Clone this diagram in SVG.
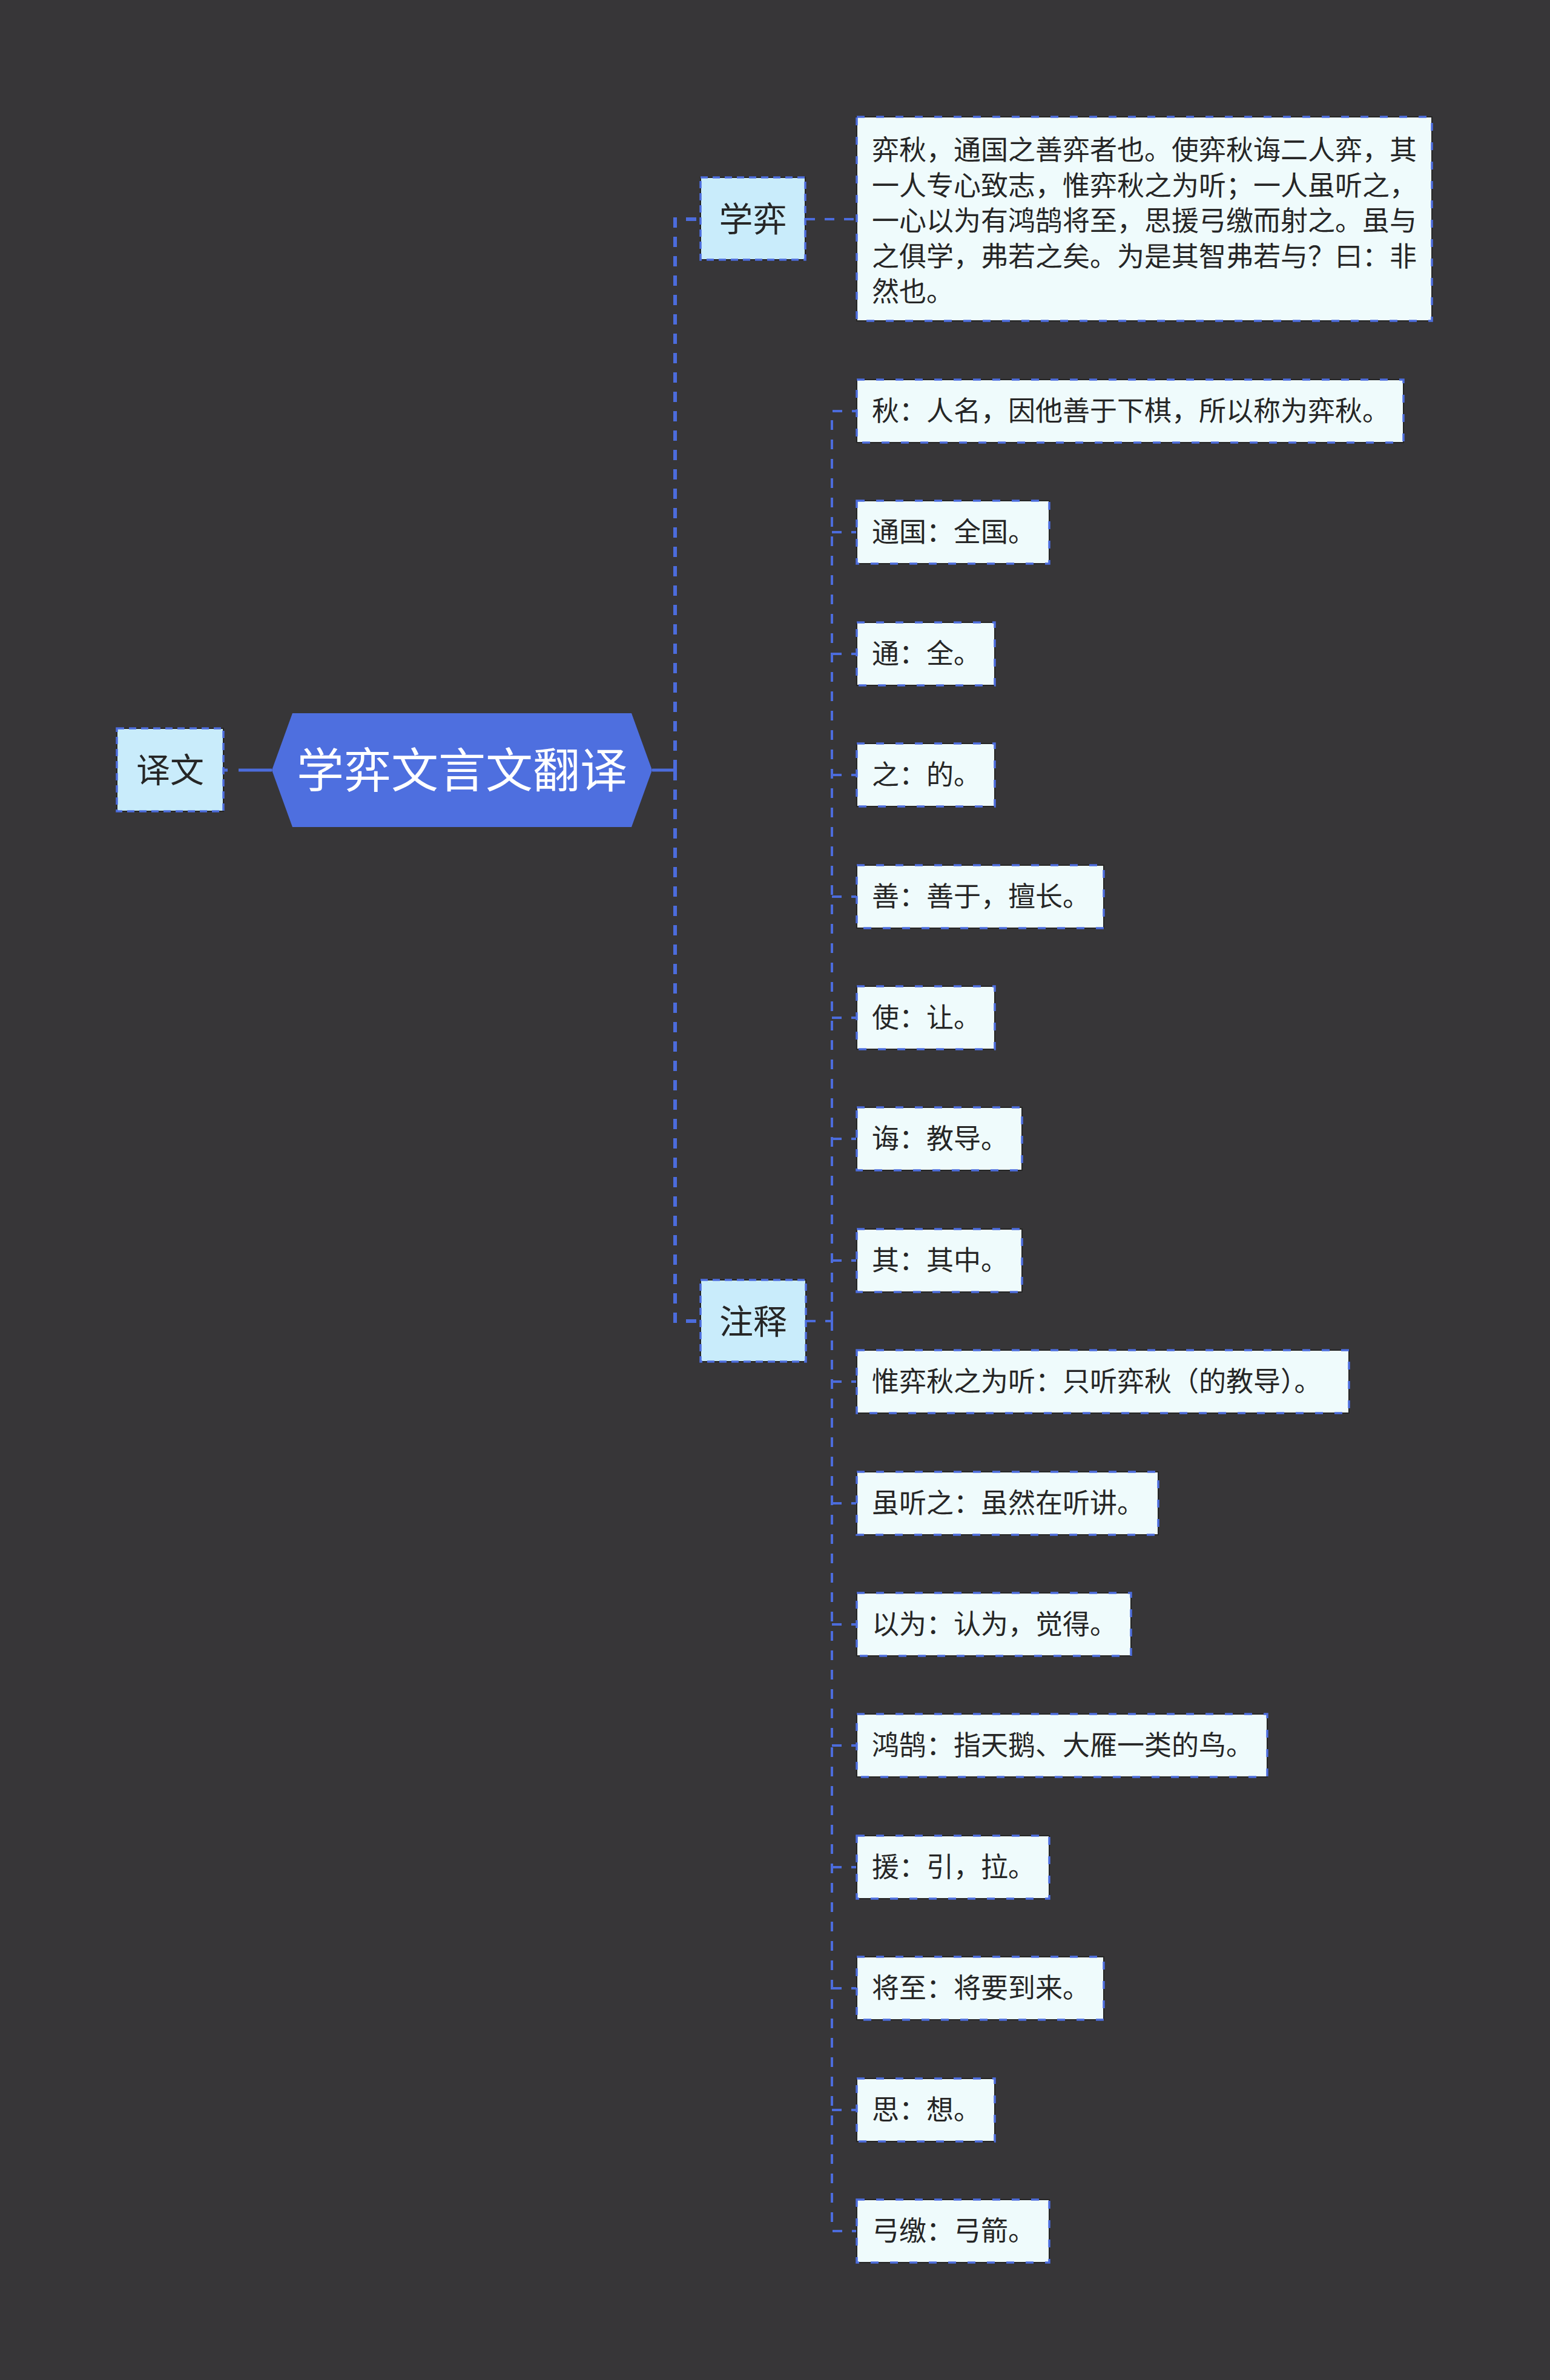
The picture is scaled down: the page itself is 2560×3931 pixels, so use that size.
<svg xmlns="http://www.w3.org/2000/svg" width="2560" height="3931" viewBox="0 0 2560 3931">
<style>
.bg{fill:#373638}
.conn{fill:none;stroke:#4c6cdc;stroke-linecap:butt}
.l1{stroke-width:6;stroke-dasharray:17 15}
.l2{stroke-width:4;stroke-dasharray:16 16}
.solid{stroke-width:5}
.under{fill:none;stroke:#262626;stroke-width:2}
.top{fill:#c9ecfb}
.leaf{fill:#effbfc}
.dash{fill:none;stroke:#4c6cdc;stroke-width:3.5}
.dtop{stroke-dasharray:12 8}
.dleaf{stroke-dasharray:13 19}
.t{font-family:"Noto Sans CJK SC","Noto Sans",sans-serif;fill:#262626}
.tl{font-size:45px}
.th{font-size:56px;text-anchor:middle}
.root{font-family:"Noto Sans CJK SC","Noto Sans",sans-serif;font-size:78px;fill:#ffffff;text-anchor:middle}
</style>
<rect class="bg" x="0" y="0" width="2560" height="3931"/>

<g id="connectors">
  <path class="conn solid" d="M449 1272 H394"/>
  <path class="conn solid" d="M376 1272 H369"/>
  <path class="conn solid" d="M1077 1272 H1115"/>
  <path class="conn l1" d="M1115 1272 V362 H1157"/>
  <path class="conn l1" d="M1115 1272 V2182 H1157"/>
  <path class="conn l2" d="M1330 362 H1415"/>
  <path class="conn l2" d="M1331 2182 H1374"/>
  <path class="conn l2" d="M1374 2182 V679 H1415"/>
  <path class="conn l2" d="M1374 2182 V3685 H1415"/>
  <path class="conn l2" d="M1374 879 H1415"/>
  <path class="conn l2" d="M1374 1080 H1415"/>
  <path class="conn l2" d="M1374 1280 H1415"/>
  <path class="conn l2" d="M1374 1481 H1415"/>
  <path class="conn l2" d="M1374 1681 H1415"/>
  <path class="conn l2" d="M1374 1881 H1415"/>
  <path class="conn l2" d="M1374 2082 H1415"/>
  <path class="conn l2" d="M1374 2282 H1415"/>
  <path class="conn l2" d="M1374 2483 H1415"/>
  <path class="conn l2" d="M1374 2683 H1415"/>
  <path class="conn l2" d="M1374 2883 H1415"/>
  <path class="conn l2" d="M1374 3084 H1415"/>
  <path class="conn l2" d="M1374 3284 H1415"/>
  <path class="conn l2" d="M1374 3485 H1415"/>
</g>

<g id="root">
  <polygon points="483,1178 1043,1178 1077,1272 1043,1366 483,1366 449,1272" fill="#4e6fdf"/>
  <text class="root" x="763" y="1301">学弈文言文翻译</text>
</g>

<g id="n-yiwen">
  <rect class="top" x="193" y="1203" width="176" height="137"/>
  <rect class="under" x="193" y="1203" width="176" height="137"/>
  <rect class="dash dtop" x="193" y="1203" width="176" height="137"/>
  <text class="t th" x="281" y="1292">译文</text>
</g>

<g id="n-xueyi">
  <rect class="top" x="1157" y="293" width="173" height="136"/>
  <rect class="under" x="1157" y="293" width="173" height="136"/>
  <rect class="dash dtop" x="1157" y="293" width="173" height="136"/>
  <text class="t th" x="1243.5" y="382">学弈</text>
</g>

<g id="n-text">
  <rect class="leaf" x="1415" y="193" width="950" height="337"/>
  <rect class="under" x="1415" y="193" width="950" height="337"/>
  <rect class="dash dleaf" x="1415" y="193" width="950" height="337"/>
  <text class="t tl" x="1440" y="264">弈秋，通国之善弈者也。使弈秋诲二人弈，其</text>
  <text class="t tl" x="1440" y="322.5">一人专心致志，惟弈秋之为听；一人虽听之，</text>
  <text class="t tl" x="1440" y="381">一心以为有鸿鹄将至，思援弓缴而射之。虽与</text>
  <text class="t tl" x="1440" y="439.5">之俱学，弗若之矣。为是其智弗若与？曰：非</text>
  <text class="t tl" x="1440" y="498">然也。</text>
</g>

<g id="n-zhushi">
  <rect class="top" x="1157" y="2114" width="174" height="135"/>
  <rect class="under" x="1157" y="2114" width="174" height="135"/>
  <rect class="dash dtop" x="1157" y="2114" width="174" height="135"/>
  <text class="t th" x="1244" y="2203">注释</text>
</g>

<g id="c1"><rect class="leaf" x="1415" y="627" width="903" height="104"/><rect class="under" x="1415" y="627" width="903" height="104"/><rect class="dash dleaf" x="1415" y="627" width="903" height="104"/><text class="t tl" x="1440" y="695">秋：人名，因他善于下棋，所以称为弈秋。</text></g>
<g id="c2"><rect class="leaf" x="1415" y="827" width="318" height="104"/><rect class="under" x="1415" y="827" width="318" height="104"/><rect class="dash dleaf" x="1415" y="827" width="318" height="104"/><text class="t tl" x="1440" y="895">通国：全国。</text></g>
<g id="c3"><rect class="leaf" x="1415" y="1028" width="228" height="104"/><rect class="under" x="1415" y="1028" width="228" height="104"/><rect class="dash dleaf" x="1415" y="1028" width="228" height="104"/><text class="t tl" x="1440" y="1096">通：全。</text></g>
<g id="c4"><rect class="leaf" x="1415" y="1228" width="228" height="104"/><rect class="under" x="1415" y="1228" width="228" height="104"/><rect class="dash dleaf" x="1415" y="1228" width="228" height="104"/><text class="t tl" x="1440" y="1296">之：的。</text></g>
<g id="c5"><rect class="leaf" x="1415" y="1429" width="408" height="104"/><rect class="under" x="1415" y="1429" width="408" height="104"/><rect class="dash dleaf" x="1415" y="1429" width="408" height="104"/><text class="t tl" x="1440" y="1497">善：善于，擅长。</text></g>
<g id="c6"><rect class="leaf" x="1415" y="1629" width="228" height="104"/><rect class="under" x="1415" y="1629" width="228" height="104"/><rect class="dash dleaf" x="1415" y="1629" width="228" height="104"/><text class="t tl" x="1440" y="1697">使：让。</text></g>
<g id="c7"><rect class="leaf" x="1415" y="1829" width="273" height="104"/><rect class="under" x="1415" y="1829" width="273" height="104"/><rect class="dash dleaf" x="1415" y="1829" width="273" height="104"/><text class="t tl" x="1440" y="1897">诲：教导。</text></g>
<g id="c8"><rect class="leaf" x="1415" y="2030" width="273" height="104"/><rect class="under" x="1415" y="2030" width="273" height="104"/><rect class="dash dleaf" x="1415" y="2030" width="273" height="104"/><text class="t tl" x="1440" y="2098">其：其中。</text></g>
<g id="c9"><rect class="leaf" x="1415" y="2230" width="813" height="104"/><rect class="under" x="1415" y="2230" width="813" height="104"/><rect class="dash dleaf" x="1415" y="2230" width="813" height="104"/><text class="t tl" x="1440" y="2298">惟弈秋之为听：只听弈秋（的教导）。</text></g>
<g id="c10"><rect class="leaf" x="1415" y="2431" width="498" height="104"/><rect class="under" x="1415" y="2431" width="498" height="104"/><rect class="dash dleaf" x="1415" y="2431" width="498" height="104"/><text class="t tl" x="1440" y="2499">虽听之：虽然在听讲。</text></g>
<g id="c11"><rect class="leaf" x="1415" y="2631" width="453" height="104"/><rect class="under" x="1415" y="2631" width="453" height="104"/><rect class="dash dleaf" x="1415" y="2631" width="453" height="104"/><text class="t tl" x="1440" y="2699">以为：认为，觉得。</text></g>
<g id="c12"><rect class="leaf" x="1415" y="2831" width="678" height="104"/><rect class="under" x="1415" y="2831" width="678" height="104"/><rect class="dash dleaf" x="1415" y="2831" width="678" height="104"/><text class="t tl" x="1440" y="2899">鸿鹄：指天鹅、大雁一类的鸟。</text></g>
<g id="c13"><rect class="leaf" x="1415" y="3032" width="318" height="104"/><rect class="under" x="1415" y="3032" width="318" height="104"/><rect class="dash dleaf" x="1415" y="3032" width="318" height="104"/><text class="t tl" x="1440" y="3100">援：引，拉。</text></g>
<g id="c14"><rect class="leaf" x="1415" y="3232" width="408" height="104"/><rect class="under" x="1415" y="3232" width="408" height="104"/><rect class="dash dleaf" x="1415" y="3232" width="408" height="104"/><text class="t tl" x="1440" y="3300">将至：将要到来。</text></g>
<g id="c15"><rect class="leaf" x="1415" y="3433" width="228" height="104"/><rect class="under" x="1415" y="3433" width="228" height="104"/><rect class="dash dleaf" x="1415" y="3433" width="228" height="104"/><text class="t tl" x="1440" y="3501">思：想。</text></g>
<g id="c16"><rect class="leaf" x="1415" y="3633" width="318" height="104"/><rect class="under" x="1415" y="3633" width="318" height="104"/><rect class="dash dleaf" x="1415" y="3633" width="318" height="104"/><text class="t tl" x="1440" y="3701">弓缴：弓箭。</text></g>
</svg>
